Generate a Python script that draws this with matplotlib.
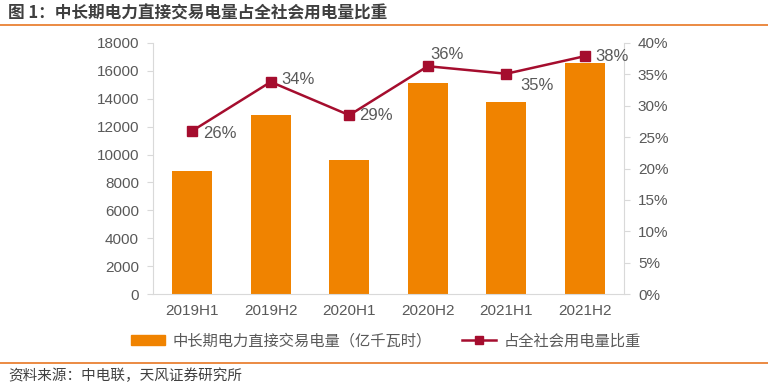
import matplotlib
matplotlib.use("Agg")
import matplotlib.pyplot as plt
from matplotlib.lines import Line2D
from matplotlib.patches import Patch

plt.rcParams['font.family'] = ['Noto Sans CJK SC', 'DejaVu Sans']

categories = ["2019H1", "2019H2", "2020H1", "2020H2", "2021H1", "2021H2"]
volume = [8820, 12850, 9600, 15150, 13770, 16570]
share = [26.0, 33.8, 28.5, 36.3, 35.1, 37.9]
share_labels = ["26%", "34%", "29%", "36%", "35%", "38%"]
title = "图 1：中长期电力直接交易电量占全社会用电量比重"
legend_bar = "中长期电力直接交易电量（亿千瓦时）"
legend_line = "占全社会用电量比重"
source = "资料来源：中电联，天风证券研究所"

# label offsets in pixels (dx, dy)
label_offsets = [(11, -3), (11, 2), (10, 0), (3, 12), (14, -12), (11, 0)]

W, H = 768, 388
fig = plt.figure(figsize=(W/100, H/100), dpi=100)
ax = fig.add_axes([153/W, 1-294/H, (624-153)/W, (294-43)/H])
ax2 = ax.twinx()

orange = "#F08300"
red = "#A50D2E"
gray = "#595959"
latin = "Liberation Sans"

x = list(range(len(categories)))
ax.bar(x, volume, width=0.51, color=orange, zorder=2)
ax.set_xlim(-0.5, len(categories)-0.5)
ax.set_ylim(0, 18000)
ax.set_yticks(range(0, 18001, 2000))
ax.set_xticks(x)
ax.set_xticklabels(categories)

ax2.plot(x, share, color=red, lw=1.8, marker="s", ms=7, zorder=3)
ax2.set_ylim(0, 40)
ax2.set_yticks(range(0, 41, 5))
ax2.set_yticklabels([f"{v}%" for v in range(0, 41, 5)])
for xi, v, lab, (dx, dy) in zip(x, share, share_labels, label_offsets):
    ax2.annotate(lab, (xi, v), xytext=(dx*0.72, dy*0.72), textcoords="offset points",
                 ha="left", va="center", fontsize=12, color=gray, family=latin)

for a in (ax, ax2):
    a.spines["top"].set_visible(False)
    for s in ("left", "right", "bottom"):
        a.spines[s].set_color("#D9D9D9")
    a.tick_params(colors=gray, labelsize=11, length=4, width=0.8)
    a.tick_params(axis="y", color="#D9D9D9", pad=6)
    a.tick_params(axis="x", length=0, pad=7)
    for t in a.get_yticklabels() + a.get_xticklabels():
        t.set_family(latin)
ax.spines["right"].set_visible(False)
ax2.spines["left"].set_visible(False)
ax2.spines["bottom"].set_visible(False)

fig.text(8/W, 1-13/H, title, fontsize=12, fontweight="bold", color="#3F3F3F", va="center", ha="left")
fig.add_artist(Line2D([0, 1], [1-25/H, 1-25/H], color="#E87722", lw=1.2, transform=fig.transFigure))
fig.add_artist(Line2D([0, 1], [1-363/H, 1-363/H], color="#E87722", lw=1.2, transform=fig.transFigure))
fig.text(8/W, 1-376/H, source, fontsize=10.5, color="#404040", va="center", ha="left")

handles = [Patch(color=orange), Line2D([], [], color=red, lw=1.8, marker="s", ms=6)]
fig.legend(handles, [legend_bar, legend_line], loc="center", bbox_to_anchor=(386/W, 1-341/H),
           ncol=2, frameon=False, fontsize=11, labelcolor=gray, handlelength=2.2,
           columnspacing=2.0, handleheight=0.6, handletextpad=0.5)

fig.savefig("out.png", dpi=100)
